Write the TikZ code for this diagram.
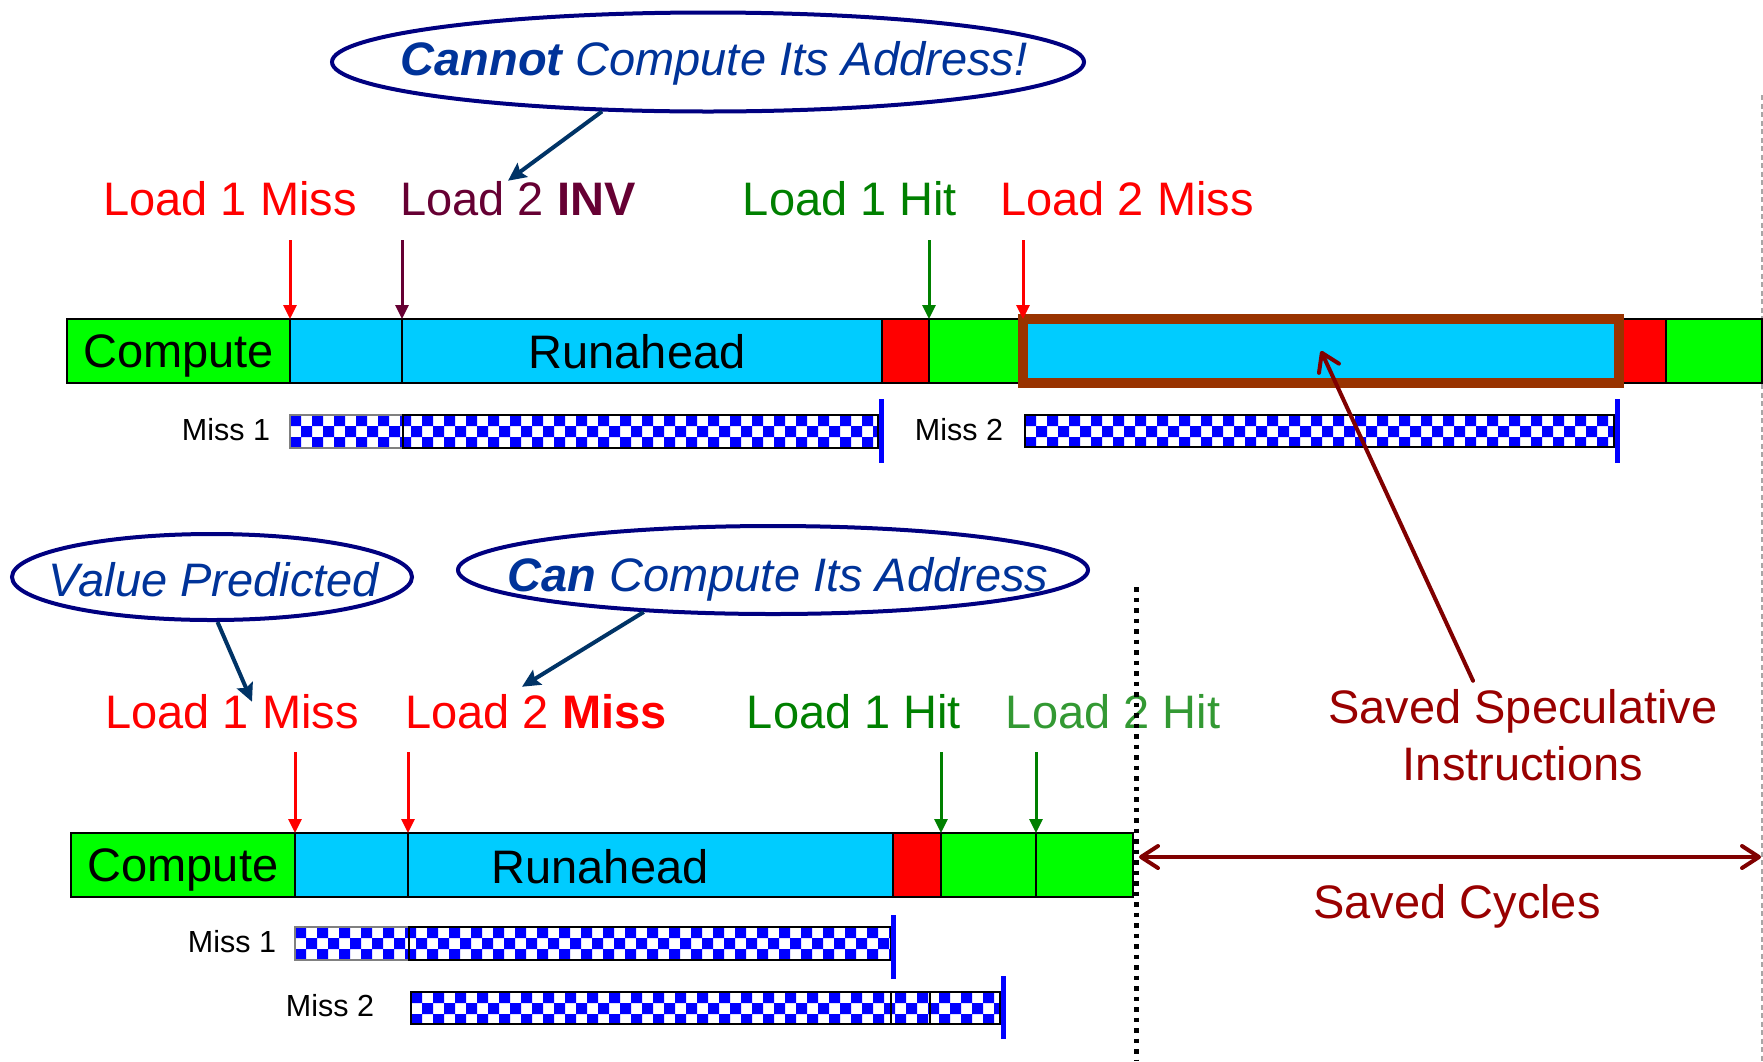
\documentclass[tikz,border=0pt]{standalone}
\usepackage{fontspec}
\setmainfont{Liberation Sans}
\usetikzlibrary{arrows.meta, positioning, shapes.geometric}

\definecolor{cmpgreen}{HTML}{00FF00}
\definecolor{rablue}{HTML}{00CCFF}
\definecolor{stallred}{HTML}{FF0000}
\definecolor{boxbrown}{HTML}{993300}
\definecolor{invred}{HTML}{660033}
\definecolor{hitgreen}{HTML}{008000}
\definecolor{hitgreenb}{HTML}{339933}
\definecolor{savedred}{HTML}{990000}
\definecolor{arrowred}{HTML}{800000}
\definecolor{bubbleblue}{HTML}{000080}
\definecolor{bubbletext}{HTML}{003399}
\definecolor{callblue}{HTML}{003366}

\newcommand{\lblfont}{\fontsize{47}{56}\selectfont}
\newcommand{\missfont}{\fontsize{30.5}{36}\selectfont}
\newcommand{\checkbar}[4]{%
  \begin{scope}
    \clip (#1,#2) rectangle (#3,#4);
    \fill[white] (#1,#2) rectangle (#3,#4);
    \foreach \i in {0,2,...,56}
      \fill[blue] (#1+\i*11,#2) rectangle ++(11,11)
        (#1+\i*11+11,#2+11) rectangle ++(11,11)
        (#1+\i*11,#2+22) rectangle ++(11,11);
  \end{scope}}

\begin{document}
\begin{tikzpicture}[x=1pt, y=-1pt,
    seg/.style={draw=black, line width=1.5pt, minimum height=64pt, inner sep=0pt, outer sep=0pt, text depth=0pt, font=\lblfont},
    lbl/.style={anchor=base, inner sep=0pt, font=\lblfont},
    btext/.style={lbl, bubbletext, font=\lblfont\itshape},
    misslbl/.style={anchor=base, inner sep=0pt, font=\missfont},
    bubble/.style={ellipse, draw=bubbleblue, line width=4pt, inner sep=0pt},
    tick/.style={line width=3pt, -{Triangle[length=14pt,width=13pt]}},
    call/.style={draw=callblue, line width=4pt, -{Stealth[length=18pt,width=17pt,inset=3pt]}},
    savedarr/.style={draw=arrowred, line width=4pt, line cap=round, -{Straight Barb[length=17pt,width=22pt,round]}},
    missbox/.style={draw=black, line width=2pt},
    misstick/.style={draw=blue, line width=5pt}]
    \useasboundingbox (0,0) rectangle (1763,1061);

    \draw[gray!70, line width=1.3pt, dash pattern=on 5pt off 3.5pt] (1762,95) -- (1762,1061);

    \node[seg, fill=cmpgreen, minimum width=223pt, anchor=north west] (cmpa) at (67,319) {Compute};
    \node[seg, fill=rablue, minimum width=112pt, right=0pt of cmpa] (raa1) {};
    \node[seg, fill=rablue, minimum width=480pt, right=0pt of raa1] (raa2) {};
    \node[seg, fill=stallred, minimum width=47pt, right=0pt of raa2] (stla) {};
    \node[seg, fill=cmpgreen, minimum width=94pt, right=0pt of stla] (cmpa2) {};
    \node[seg, fill=rablue, minimum width=596pt, right=0pt of cmpa2] (rab) {};
    \node[seg, fill=stallred, minimum width=47pt, right=0pt of rab] (stla2) {};
    \node[seg, fill=cmpgreen, minimum width=96pt, right=0pt of stla2] (cmpa3) {};
    \draw[boxbrown, line width=9.5pt] (rab.north west) rectangle (rab.south east);
    \node[lbl] (rata) at (637,368) {Runahead};

    \node[lbl, red] (l1ma) at (230,215) {Load 1 Miss};
    \node[lbl, invred] (l2ia) at (518,215) {Load 2 \textbf{INV}};
    \node[lbl, hitgreen] (l1ha) at (850,215) {Load 1 Hit};
    \node[lbl, red] (l2ma) at (1127,215) {Load 2 Miss};
    \draw[tick, red] ([yshift=79pt]raa1.north west) -- (raa1.north west);
    \draw[tick, invred] ([yshift=79pt]raa2.north west) -- (raa2.north west);
    \draw[tick, hitgreen] ([yshift=79pt]cmpa2.north west) -- (cmpa2.north west);
    \draw[tick, red] ([yshift=79pt]rab.north west) -- (rab.north west);

    \node[misslbl] (m1a) at (226,440) {Miss 1};
    \checkbar{290}{415}{878}{448}
    \draw[missbox, draw=gray] (290,415) rectangle (403,448);
    \draw[missbox] (403,415) rectangle (878,448);
    \draw[misstick] (881,399) -- (881,463);
    \node[misslbl] (m2a) at (959,440) {Miss 2};
    \checkbar{1025}{415}{1614}{447}
    \draw[missbox] (1025,415) rectangle (1614,447);
    \draw[misstick] (1617,399) -- (1617,463);

    \node[bubble, minimum width=752pt, minimum height=99pt] (cna) at (708,62) {};
    \node[btext] (cnat) at (714,75) {\textbf{Cannot} Compute Its Address!};
    \draw[call] (cna.205) -- ([xshift=-10pt]l2ia.north);

    \node[seg, fill=cmpgreen, minimum width=224pt, anchor=north west] (cmpb) at (71,833) {Compute};
    \node[seg, fill=rablue, minimum width=113pt, right=0pt of cmpb] (rab1) {};
    \node[seg, fill=rablue, minimum width=485pt, right=0pt of rab1] (rab2) {};
    \node[seg, fill=stallred, minimum width=48pt, right=0pt of rab2] (stlb) {};
    \node[seg, fill=cmpgreen, minimum width=95pt, right=0pt of stlb] (cmpb2) {};
    \node[seg, fill=cmpgreen, minimum width=97pt, right=0pt of cmpb2] (cmpb3) {};
    \node[lbl] (ratb) at (600,883) {Runahead};

    \node[lbl, red] (l1mb) at (232,728) {Load 1 Miss};
    \node[lbl, red] (l2mb) at (536,728) {Load 2 \textbf{Miss}};
    \node[lbl, hitgreen] (l1hb) at (854,728) {Load 1 Hit};
    \node[lbl, hitgreenb] (l2hb) at (1113,728) {Load 2 Hit};
    \draw[tick, red] ([yshift=81pt]rab1.north west) -- (rab1.north west);
    \draw[tick, red] ([yshift=81pt]rab2.north west) -- (rab2.north west);
    \draw[tick, hitgreen] ([yshift=81pt]cmpb2.north west) -- (cmpb2.north west);
    \draw[tick, hitgreen] ([yshift=81pt]cmpb3.north west) -- (cmpb3.north west);

    \node[misslbl] (m1b) at (232,952) {Miss 1};
    \checkbar{295}{927}{891}{960}
    \draw[missbox, draw=gray] (295,927) rectangle (409,960);
    \draw[missbox] (409,927) rectangle (891,960);
    \draw[misstick] (893,915) -- (893,979);
    \node[misslbl] (m2b) at (330,1016) {Miss 2};
    \checkbar{411}{992}{1000}{1024}
    \draw[missbox] (411,992) rectangle (891,1024);
    \draw[missbox] (891,992) rectangle (930,1024);
    \draw[missbox] (930,992) rectangle (1000,1024);
    \draw[misstick] (1003,976) -- (1003,1039);

    \node[bubble, minimum width=400pt, minimum height=86pt] (vp) at (212,577) {};
    \node[btext] (vpt) at (214,596) {Value Predicted};
    \node[bubble, minimum width=630pt, minimum height=88pt] (cc) at (773,570) {};
    \node[btext] (cct) at (778,591) {\textbf{Can} Compute Its Address};
    \draw[call] (vp.-83) -- ([xshift=20pt,yshift=-8pt]l1mb.north);
    \draw[call] (cc.198) -- ([xshift=-14pt,yshift=7pt]l2mb.north);

    \draw[black, line width=5pt, dash pattern=on 4.5pt off 6pt] (1136,587) -- (1136,1061);

    \node[lbl, savedred] (sst) at (1523,723) {Saved Speculative};
    \node[lbl, savedred] (ssi) at (1523,780) {Instructions};
    \node[lbl, savedred] (scy) at (1457,918) {Saved Cycles};
    \draw[savedarr] ([xshift=-50pt,yshift=8pt]sst.north) -- (rab.center);
    \coordinate (cyl) at (1139,857);
    \coordinate (cyr) at (1761,857);
    \draw[savedarr, {Straight Barb[length=17pt,width=22pt,round]}-{Straight Barb[length=17pt,width=22pt,round]}] (cyl) -- (cyr);
\end{tikzpicture}
\end{document}
